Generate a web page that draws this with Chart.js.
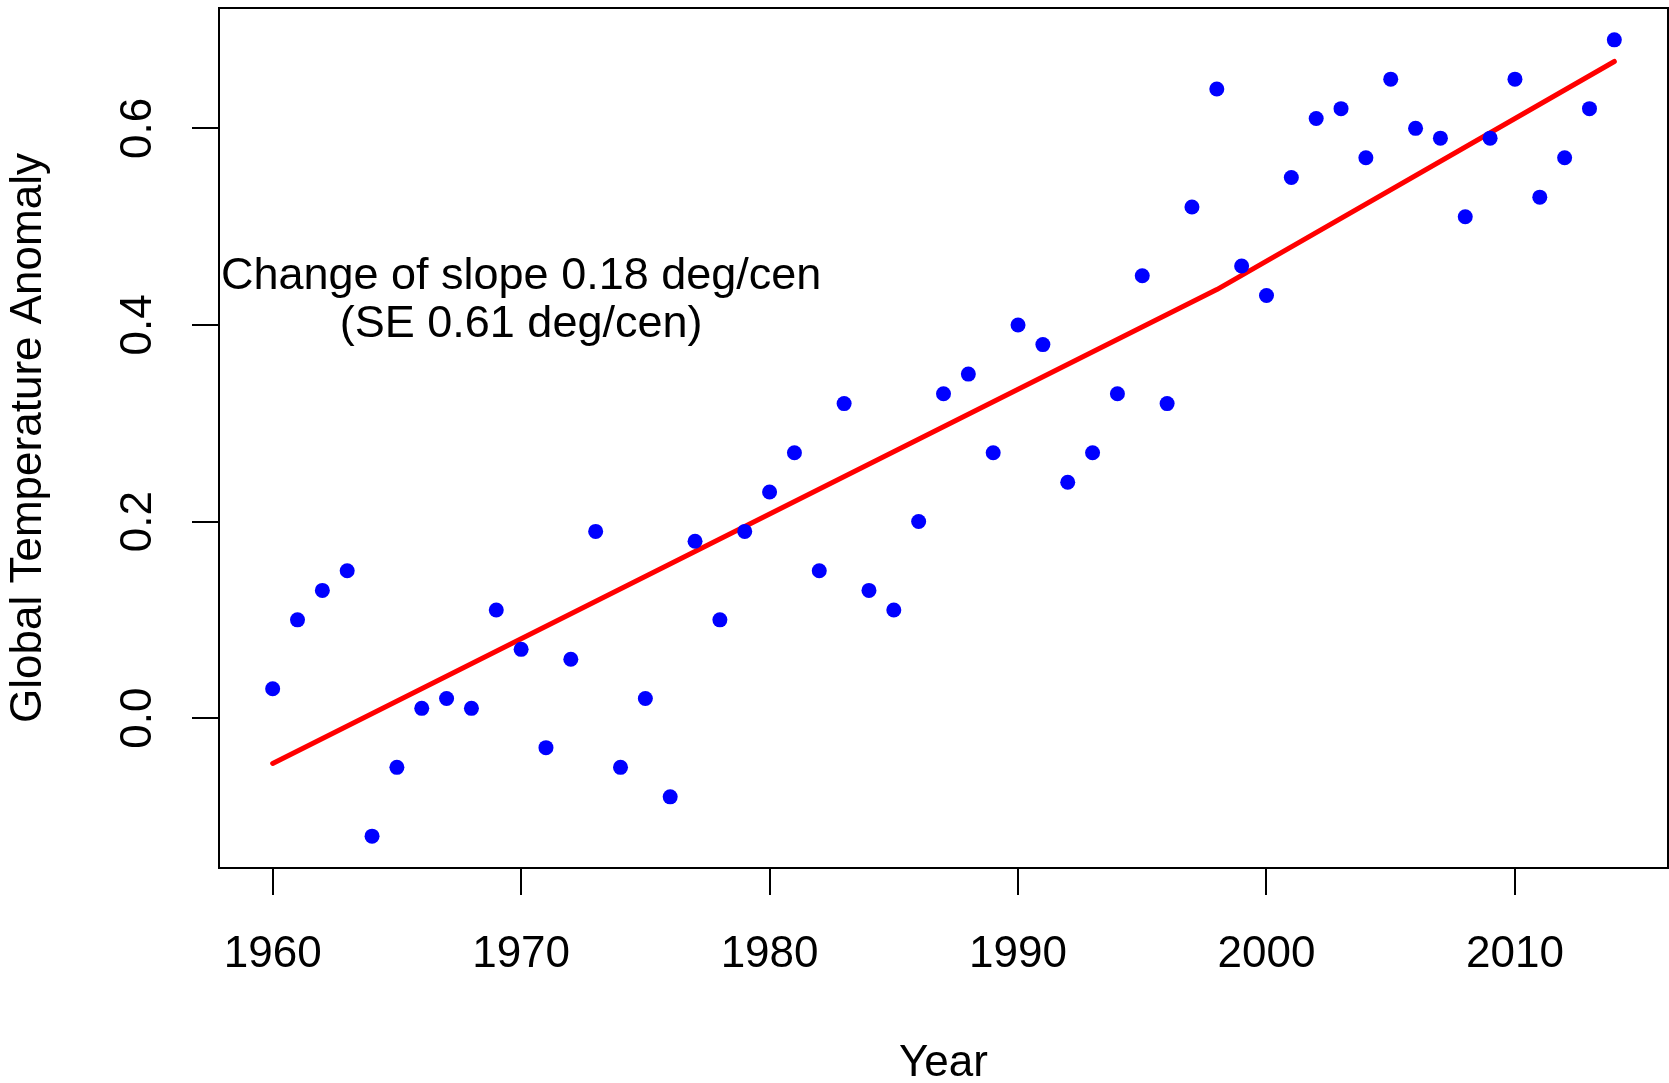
<!DOCTYPE html>
<html>
<head>
<meta charset="utf-8">
<script src="https://cdn.jsdelivr.net/npm/chart.js@4/dist/chart.umd.min.js"></script>
<style>
  body { margin: 0; background: #fff; }
  #wrap { width: 1669px; height: 1083px; position: relative; }
</style>
</head>
<body>
<div id="wrap"><canvas id="tempGraph"></canvas></div>
<script>
//data section
const years = [1960, 1961, 1962, 1963, 1964, 1965, 1966, 1967, 1968, 1969,
               1970, 1971, 1972, 1973, 1974, 1975, 1976, 1977, 1978, 1979,
               1980, 1981, 1982, 1983, 1984, 1985, 1986, 1987, 1988, 1989,
               1990, 1991, 1992, 1993, 1994, 1995, 1996, 1997, 1998, 1999,
               2000, 2001, 2002, 2003, 2004, 2005, 2006, 2007, 2008, 2009,
               2010, 2011, 2012, 2013, 2014];
const anomaly = [0.03, 0.10, 0.13, 0.15, -0.12, -0.05, 0.01, 0.02, 0.01, 0.11,
                 0.07, -0.03, 0.06, 0.19, -0.05, 0.02, -0.08, 0.18, 0.10, 0.19,
                 0.23, 0.27, 0.15, 0.32, 0.13, 0.11, 0.20, 0.33, 0.35, 0.27,
                 0.40, 0.38, 0.24, 0.27, 0.33, 0.45, 0.32, 0.52, 0.64, 0.46,
                 0.43, 0.55, 0.61, 0.62, 0.57, 0.65, 0.60, 0.59, 0.51, 0.59,
                 0.65, 0.53, 0.57, 0.62, 0.69];

// broken-stick fit (red line)
const fitYears = [1960, 1998, 2014];
const fitValues = [-0.046, 0.436, 0.668];

// axis ticks
const xTicks = [1960, 1970, 1980, 1990, 2000, 2010];
const yTicks = [0.0, 0.2, 0.4, 0.6];

const noteLines = ['Change of slope 0.18 deg/cen', '(SE 0.61 deg/cen)'];
const noteAt = { x: 1970, y: 0.425 };

const fontFamily = '"Liberation Sans", Arial, Helvetica, sans-serif';
const bigFont = { family: fontFamily, size: 44, lineHeight: 1 };

//box round the plot + the text note
const boxAndNote = {
    id: 'boxAndNote',
    afterDraw(chart) {
        const ctx = chart.ctx;
        const a = chart.chartArea;
        ctx.save();
        ctx.strokeStyle = '#000';
        ctx.lineWidth = 2;
        ctx.strokeRect(a.left, a.top, a.right - a.left, a.bottom - a.top);

        const cx = chart.scales.x.getPixelForValue(noteAt.x);
        const cy = chart.scales.y.getPixelForValue(noteAt.y);
        ctx.fillStyle = '#000';
        ctx.font = '45px ' + fontFamily;
        ctx.textAlign = 'center';
        ctx.textBaseline = 'middle';
        ctx.fillText(noteLines[0], cx, cy - 24);
        ctx.fillText(noteLines[1], cx, cy + 24);
        ctx.restore();
    }
};

// no overflow padding from the labels, sizes fixed by hand
const fixBox = (size) => (s) => {
    if (s.isHorizontal()) s.height = size; else s.width = size;
    s.paddingTop = 0;
    s.paddingBottom = 0;
    s.paddingLeft = 0;
    s.paddingRight = 0;
};

const tempGraphGenerator = () => {
    var ctx = document.getElementById('tempGraph').getContext('2d');
    var chart = new Chart(ctx, {
        type: 'scatter',
        data: {
            datasets: [{
                label: 'anomaly',
                data: years.map((y, i) => ({ x: y, y: anomaly[i] })),
                backgroundColor: '#0000ff',
                borderWidth: 0,
                pointRadius: 7.5,
                pointHoverRadius: 7.5
            }, {
                label: 'fit',
                type: 'line',
                data: fitYears.map((y, i) => ({ x: y, y: fitValues[i] })),
                borderColor: '#ff0000',
                borderWidth: 5,
                pointRadius: 0,
                fill: false,
                tension: 0,
                borderCapStyle: 'round',
                borderJoinStyle: 'round'
            }]
        },
        options: {
            responsive: true,
            maintainAspectRatio: false,
            animation: false,
            events: [],
            layout: {
                autoPadding: false,
                padding: { left: 0, right: 1, top: 8, bottom: 0 }
            },
            plugins: {
                legend: { display: false },
                tooltip: { enabled: false }
            },
            scales: {
                x: {
                    type: 'linear',
                    min: 1957.84,
                    max: 2016.16,
                    afterBuildTicks: (s) => { s.ticks = xTicks.map(v => ({ value: v })); },
                    afterFit: fixBox(215),
                    border: { display: false },
                    grid: {
                        drawOnChartArea: false,
                        drawTicks: true,
                        tickLength: 27,
                        color: '#000',
                        lineWidth: 2
                    },
                    ticks: {
                        color: '#000',
                        font: bigFont,
                        padding: 38,
                        maxRotation: 0,
                        callback: (v) => String(v)
                    },
                    title: {
                        display: true,
                        text: 'Year',
                        color: '#000',
                        font: bigFont,
                        padding: { top: 0, bottom: -3 }
                    }
                },
                y: {
                    type: 'linear',
                    min: -0.1524,
                    max: 0.7224,
                    afterBuildTicks: (s) => { s.ticks = yTicks.map(v => ({ value: v })); },
                    afterFit: fixBox(219),
                    border: { display: false },
                    grid: {
                        drawOnChartArea: false,
                        drawTicks: true,
                        tickLength: 27,
                        color: '#000',
                        lineWidth: 2
                    },
                    ticks: {
                        color: '#000',
                        font: bigFont,
                        padding: 23,
                        minRotation: 90,
                        maxRotation: 90,
                        crossAlign: 'center',
                        callback: (v) => Number(v).toFixed(1)
                    },
                    title: {
                        display: true,
                        text: 'Global Temperature Anomaly',
                        color: '#000',
                        font: bigFont,
                        padding: { top: 7, bottom: 0 }
                    }
                }
            }
        },
        plugins: [boxAndNote]
    });
};
tempGraphGenerator()
</script>
</body>
</html>
